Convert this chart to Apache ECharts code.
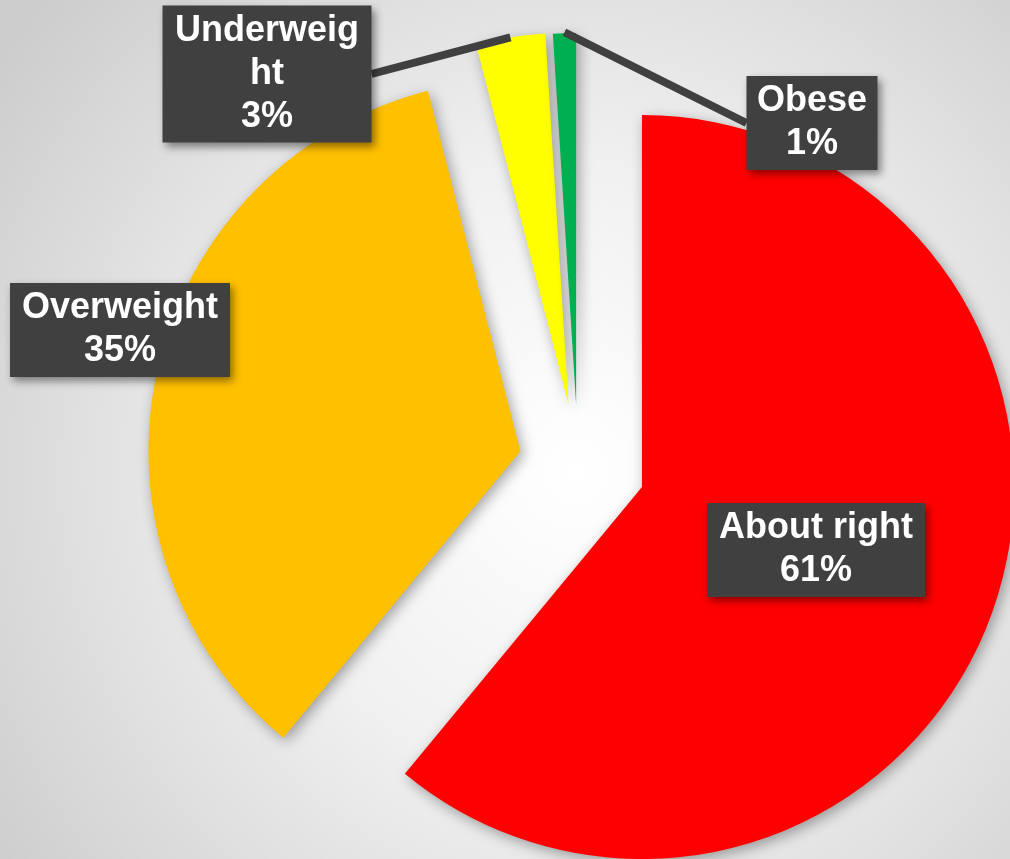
<!DOCTYPE html>
<html>
<head>
<meta charset="utf-8">
<script src="https://cdn.jsdelivr.net/npm/echarts@6/dist/echarts.min.js"></script>
<style>
  html, body { margin: 0; padding: 0; }
  #chart { width: 1010px; height: 859px; }
</style>
</head>
<body>
<div id="chart"></div>
<script>
// data, clockwise from 12 o'clock
const categories = ['About right', 'Overweight', 'Underweight', 'Obese'];
const values = [61, 35, 3, 1];

// look of the slices and their labels
const colors = ['#FF0000', '#FFC000', '#FFFF00', '#00B050'];
const explode = [68, 59, 60, 59];
const labelPos = [[816, 550], [120, 330], [267, 74], [812, 123]];
const labelWidth = [200, 202, 191, 113];

const pieCenter = [578, 464];
const pieRadius = 372;

const chart = echarts.init(document.getElementById('chart'));

// one series per slice so each slice gets its own explosion
const sliceSeries = (i) => ({
  type: 'pie',
  center: pieCenter,
  radius: pieRadius,
  startAngle: 90,
  clockwise: true,
  selectedMode: 'multiple',
  selectedOffset: explode[i],
  silent: true,
  z: i === 0 ? 2 : 3,
  label: { show: false },
  labelLine: { show: false },
  data: categories.map((name, j) => ({
    name: name,
    value: values[j],
    selected: j === i,
    itemStyle: j === i ? {
      color: colors[j],
      shadowColor: 'rgba(0,0,0,0.35)',
      shadowBlur: 14,
      shadowOffsetX: 3,
      shadowOffsetY: 4
    } : { color: 'rgba(0,0,0,0)' }
  }))
});

// transparent copy of the pie that only carries the data labels
const labelSeries = {
  type: 'pie',
  center: pieCenter,
  radius: pieRadius + 60,
  startAngle: 90,
  clockwise: true,
  silent: true,
  z: 5,
  itemStyle: { color: 'rgba(0,0,0,0)' },
  label: {
    position: 'outside',
    formatter: '{b}\n{d}%',
    fontFamily: '"Liberation Sans", Arial, sans-serif',
    fontWeight: 'bold',
    fontSize: 36,
    lineHeight: 43,
    color: '#ffffff',
    backgroundColor: '#404040',
    padding: [5, 9, 3, 9],
    overflow: 'breakAll',
    shadowColor: 'rgba(0,0,0,0.45)',
    shadowBlur: 8,
    shadowOffsetX: 3,
    shadowOffsetY: 4
  },
  labelLine: {
    length2: 0,
    lineStyle: { color: '#404040', width: 8 }
  },
  labelLayout: (params) => ({
    x: labelPos[params.dataIndex][0],
    y: labelPos[params.dataIndex][1],
    align: 'center',
    verticalAlign: 'middle'
  }),
  data: categories.map((name, j) => ({
    name: name,
    value: values[j],
    label: { width: labelWidth[j] },
    labelLine: { show: j >= 2 }
  }))
};

chart.setOption({
  animation: false,
  backgroundColor: {
    type: 'radial',
    x: 0.57,
    y: 0.55,
    r: 0.82,
    colorStops: [
      { offset: 0, color: '#ffffff' },
      { offset: 0.45, color: '#f0f0f0' },
      { offset: 1, color: '#cdcdcd' }
    ]
  },
  series: categories.map((c, i) => sliceSeries(i)).concat([labelSeries])
});
</script>
</body>
</html>
